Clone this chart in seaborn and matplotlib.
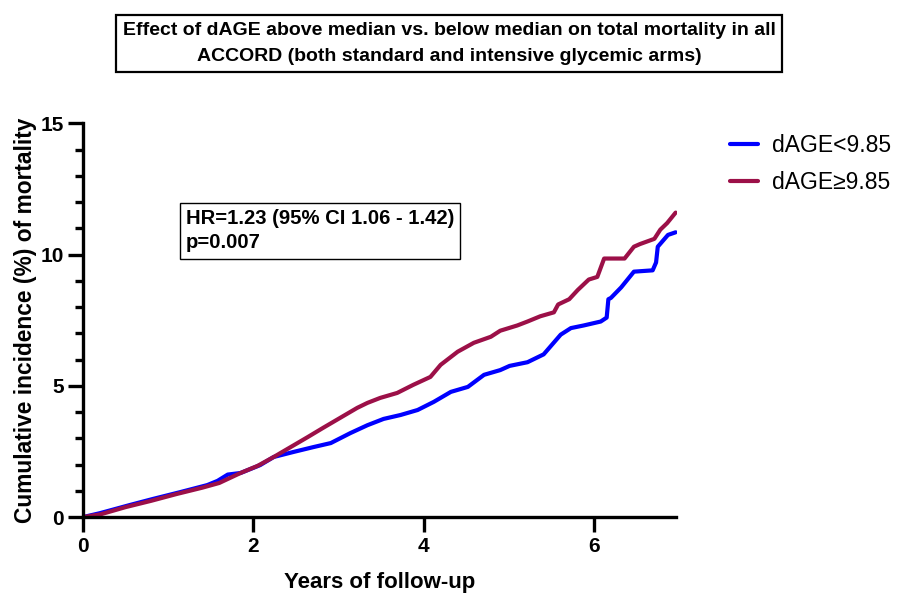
import pandas as pd
import matplotlib.pyplot as plt
import seaborn as sns
from matplotlib.ticker import MultipleLocator

# Cumulative incidence (%)
years_low = [0, 0.2, 0.55, 0.82, 1.14, 1.46, 1.58, 1.7, 1.85, 2.08, 2.24, 2.47,
             2.71, 2.91, 3.14, 3.34, 3.53, 3.73, 3.93, 4.12, 4.32, 4.52, 4.71,
             4.9, 5.01, 5.22, 5.41, 5.61, 5.73, 5.88, 6.08, 6.15, 6.17, 6.2,
             6.32, 6.47, 6.69, 6.73, 6.75, 6.87, 6.96]
inc_low = [0, 0.15, 0.46, 0.69, 0.95, 1.22, 1.38, 1.62, 1.68, 1.98, 2.29, 2.48,
           2.67, 2.82, 3.2, 3.5, 3.74, 3.89, 4.08, 4.39, 4.77, 4.96, 5.42,
           5.6, 5.76, 5.9, 6.2, 6.95, 7.2, 7.3, 7.45, 7.6, 8.3, 8.35,
           8.75, 9.35, 9.4, 9.7, 10.3, 10.75, 10.85]

years_high = [0, 0.2, 0.5, 0.8, 1.1, 1.4, 1.6, 1.85, 2.05, 2.24, 2.44, 2.64,
              2.82, 3.02, 3.22, 3.34, 3.49, 3.69, 3.88, 4.08, 4.2, 4.4, 4.59,
              4.79, 4.9, 5.1, 5.22, 5.37, 5.53, 5.58, 5.71, 5.81, 5.94, 6.04,
              6.12, 6.36, 6.47, 6.54, 6.71, 6.78, 6.86, 6.96]
inc_high = [0, 0.1, 0.38, 0.62, 0.88, 1.12, 1.3, 1.68, 1.95, 2.29, 2.67, 3.05,
            3.4, 3.78, 4.16, 4.35, 4.54, 4.73, 5.04, 5.34, 5.8, 6.3, 6.64,
            6.87, 7.1, 7.3, 7.45, 7.65, 7.8, 8.1, 8.3, 8.65, 9.05, 9.15,
            9.85, 9.85, 10.3, 10.4, 10.6, 10.95, 11.2, 11.6]

groups = ["dAGE<9.85", "dAGE\u22659.85"]
colors = ["#0000FF", "#9C1048"]

df = pd.concat([
    pd.DataFrame({"years": years_low, "incidence": inc_low, "group": groups[0]}),
    pd.DataFrame({"years": years_high, "incidence": inc_high, "group": groups[1]}),
])

sns.set_style("ticks")
plt.rcParams["font.family"] = ["Liberation Sans", "DejaVu Sans"]
plt.rcParams.update({"text.color": "black", "axes.labelcolor": "black",
                     "axes.edgecolor": "black", "xtick.color": "black",
                     "ytick.color": "black"})

fig = plt.figure(figsize=(9.02, 5.93), dpi=100)
ax = fig.add_axes([0.092, 0.128, 0.658, 0.664])

sns.lineplot(data=df, x="years", y="incidence", hue="group",
             palette=dict(zip(groups, colors)), estimator=None, sort=False,
             linewidth=3, ax=ax, legend=False)

ax.set_xlim(0, 6.97)
ax.set_ylim(0, 15)
ax.set_xticks([0, 2, 4, 6])
ax.set_yticks([0, 5, 10, 15])
ax.yaxis.set_minor_locator(MultipleLocator(1))

for side in ["top", "right"]:
    ax.spines[side].set_visible(False)
for side in ["left", "bottom"]:
    ax.spines[side].set_linewidth(2.4)
ax.tick_params(axis="both", which="major", length=11, width=2.4,
               labelsize=15, pad=3)
ax.tick_params(axis="y", which="minor", length=6, width=2.4)
for lbl in ax.get_xticklabels() + ax.get_yticklabels():
    lbl.set_fontweight("bold")

ax.set_xlabel("Years of follow-up", fontsize=16, fontweight="bold", labelpad=12)
ax.set_ylabel("Cumulative incidence (%) of mortality", fontsize=16.4,
              fontweight="bold", labelpad=2)

# legend outside to the right
handles = [plt.Line2D([], [], color=c, lw=3) for c in colors]
fig.legend(handles, groups, loc="upper left", bbox_to_anchor=(0.786, 0.808),
           frameon=False, fontsize=16.5, handlelength=1.25, handletextpad=0.62,
           labelspacing=0.6)

# hazard ratio box
ax.text(0.173, 0.727, "HR=1.23 (95% CI 1.06 - 1.42)\np=0.007",
        transform=ax.transAxes, fontsize=14.6, fontweight="bold",
        va="center", ha="left", linespacing=1.35,
        bbox=dict(boxstyle="square,pad=0.3", fc="white", ec="black", lw=1))

# title box
fig.text(0.498, 0.927,
         "Effect of dAGE above median vs. below median on total mortality in all\n"
         "ACCORD (both standard and intensive glycemic arms)",
         ha="center", va="center", fontsize=14, fontweight="bold",
         linespacing=1.7,
         bbox=dict(boxstyle="square,pad=0.35", fc="white", ec="black", lw=1.6))

fig.savefig("out.png", dpi=100)
